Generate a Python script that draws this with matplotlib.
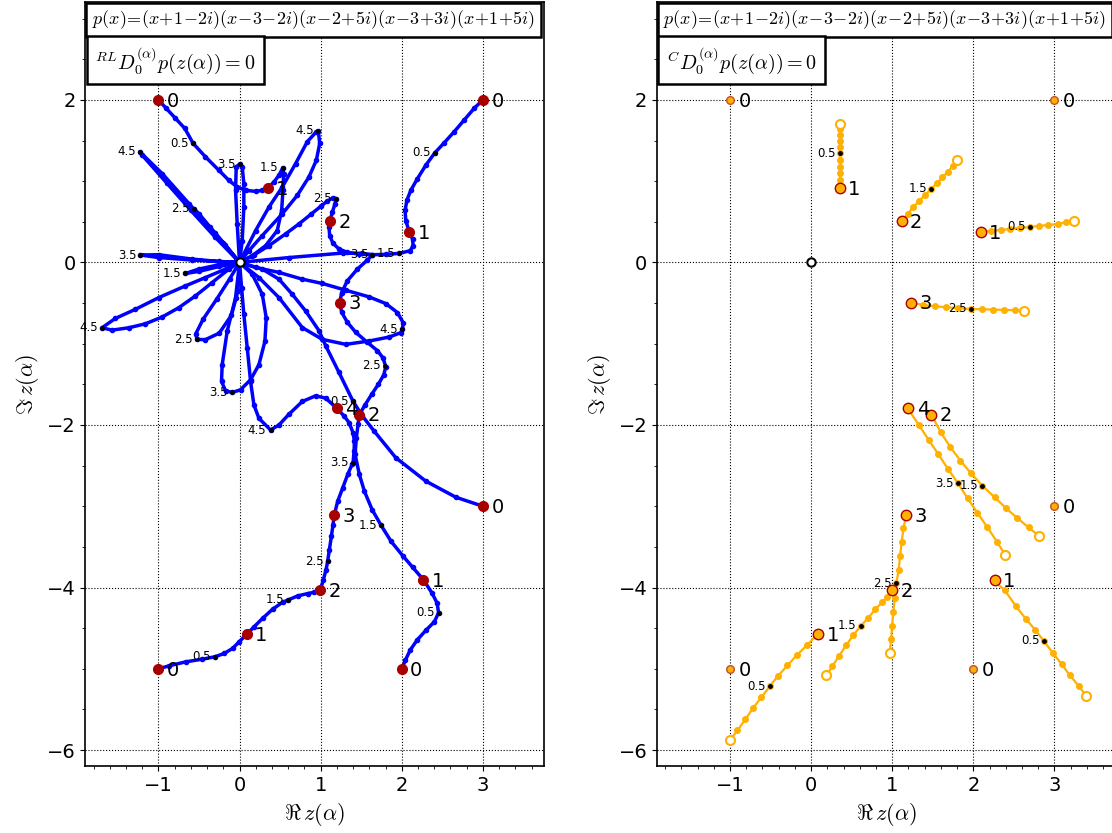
import matplotlib
matplotlib.use("Agg")
import matplotlib.pyplot as plt
from matplotlib.ticker import MultipleLocator

plt.rcParams['mathtext.fontset'] = 'cm'

# roots of p and of its integer-order derivatives
roots_0 = [(-1.0, 2.0), (3.0, 2.0), (3.0, -3.0), (2.0, -5.0), (-1.0, -5.0)]
roots_1 = [(0.35, 0.915), (2.091, 0.379), (2.267, -3.905), (0.091, -4.572)]
roots_2 = [(1.115, 0.511), (1.477, -1.872), (0.996, -4.029)]
roots_3 = [(1.235, -0.494), (1.169, -3.103)]
roots_4 = [(1.198, -1.794)]
int_roots = [roots_0, roots_1, roots_2, roots_3, roots_4]

# Riemann-Liouville root paths, alpha in [0, 5]
rl_a1_x = [-1.0, -0.905, -0.79, -0.675, -0.572, -0.42, -0.255, -0.132, -0.029, 0.074, 0.198, 0.28, 0.35]
rl_a1_y = [2.0, 1.897, 1.773, 1.649, 1.464, 1.299, 1.134, 1.01, 0.928, 0.887, 0.874, 0.887, 0.915]
rl_a2_x = [3.0, 2.893, 2.77, 2.646, 2.523, 2.407, 2.296, 2.193, 2.111, 2.062, 2.041, 2.049, 2.091]
rl_a2_y = [2.0, 1.897, 1.753, 1.608, 1.472, 1.348, 1.196, 1.031, 0.887, 0.763, 0.639, 0.515, 0.379]
rl_a3_x = [3.0, 2.667, 2.296, 1.926, 1.658, 1.514, 1.40, 1.226, 1.062, 0.979, 0.815, 0.65, 0.486, 0.28, 0.0]
rl_a3_y = [-3.0, -2.889, -2.691, -2.403, -2.074, -1.889, -1.71, -1.354, -1.025, -0.84, -0.598, -0.392, -0.206, -0.082, 0.0]
rl_a4_x = [-1.0, -0.868, -0.663, -0.457, -0.305, -0.189, -0.086, -0.004, 0.091]
rl_a4_y = [-5.0, -4.963, -4.914, -4.881, -4.852, -4.811, -4.749, -4.667, -4.572]
rl_a5_x = [2.0, 2.045, 2.103, 2.189, 2.3, 2.403, 2.453, 2.436, 2.374, 2.267]
rl_a5_y = [-5.0, -4.893, -4.77, -4.646, -4.523, -4.42, -4.309, -4.193, -4.07, -3.905]

rl_b1_x = [0.35, 0.424, 0.486, 0.535, 0.543, 0.535, 0.519, 0.465, 0.321, 0.156, 0.0]
rl_b1_y = [0.915, 0.99, 1.072, 1.167, 1.093, 0.887, 0.639, 0.392, 0.206, 0.082, 0.0]
rl_b2_x = [2.091, 2.132, 2.14, 2.103, 1.967, 1.802, 1.638, 1.473, 1.329, 1.226, 1.152, 1.111, 1.103, 1.115]
rl_b2_y = [0.379, 0.289, 0.206, 0.144, 0.111, 0.099, 0.095, 0.103, 0.124, 0.165, 0.235, 0.33, 0.433, 0.511]
rl_b3_x = [0.0, -0.255, -0.502, -0.667, -0.5, -0.25, 0.0]
rl_b3_y = [0.0, -0.029, -0.082, -0.136, -0.11, -0.05, 0.0]
rl_b4_x = [0.091, 0.181, 0.284, 0.407, 0.531, 0.601, 0.716, 0.84, 0.922, 0.996]
rl_b4_y = [-4.572, -4.481, -4.379, -4.267, -4.181, -4.152, -4.103, -4.074, -4.058, -4.029]
rl_b5_x = [2.267, 2.136, 2.012, 1.868, 1.745, 1.634, 1.539, 1.477, 1.424, 1.44, 1.461, 1.477]
rl_b5_y = [-3.905, -3.753, -3.609, -3.432, -3.235, -3.041, -2.815, -2.609, -2.362, -2.156, -1.992, -1.872]

rl_c1_x = [1.115, 1.144, 1.177, 1.193, 1.152, 1.082, 1.0, 0.877, 0.733, 0.568, 0.362, 0.177, 0.0]
rl_c1_y = [0.511, 0.619, 0.722, 0.784, 0.796, 0.755, 0.689, 0.59, 0.474, 0.351, 0.206, 0.091, 0.0]
rl_c2_x = [1.477, 1.547, 1.63, 1.712, 1.778, 1.802, 1.77, 1.7, 1.576, 1.432, 1.329, 1.259, 1.235]
rl_c2_y = [-1.872, -1.753, -1.621, -1.498, -1.383, -1.284, -1.177, -1.086, -0.984, -0.86, -0.737, -0.613, -0.494]
rl_c3_x = [0.996, 1.033, 1.066, 1.086, 1.107, 1.132, 1.152, 1.169]
rl_c3_y = [-4.029, -3.905, -3.782, -3.679, -3.535, -3.37, -3.226, -3.103]
rl_c4_x = [0.0, -0.18, -0.36, -0.5, -0.564, -0.54, -0.4, -0.2, 0.0]
rl_c4_y = [0.0, 0.22, 0.43, 0.6, 0.66, 0.6, 0.45, 0.24, 0.0]
rl_c5_x = [0.0, -0.12, -0.28, -0.45, -0.54, -0.523, -0.42, -0.25, -0.1, -0.02, 0.0]
rl_c5_y = [0.0, -0.2, -0.45, -0.7, -0.88, -0.948, -0.95, -0.87, -0.65, -0.35, 0.0]

rl_d1_x = [1.235, 1.259, 1.329, 1.453, 1.576, 1.638, 1.514, 1.27, 0.61, 0.0]
rl_d1_y = [-0.494, -0.37, -0.226, -0.082, 0.029, 0.095, 0.11, 0.115, 0.06, 0.0]
rl_d2_x = [1.169, 1.21, 1.272, 1.333, 1.387, 1.399, 1.412, 1.416, 1.399, 1.35, 1.288, 1.198]
rl_d2_y = [-3.103, -2.938, -2.774, -2.609, -2.486, -2.465, -2.321, -2.198, -2.095, -1.971, -1.889, -1.794]
rl_d3_x = [0.0, -0.029, -0.049, -0.041, 0.0, 0.033, 0.053, 0.053, 0.033, 0.0]
rl_d3_y = [0.0, 0.474, 0.887, 1.175, 1.208, 1.175, 0.969, 0.68, 0.268, 0.0]
rl_d4_x = [0.0, -0.255, -0.584, -0.996, -1.222, -0.996, -0.584, -0.255, 0.0]
rl_d4_y = [0.0, 0.012, 0.041, 0.095, 0.091, 0.06, 0.03, 0.01, 0.0]
rl_d5_x = [0.0, -0.049, -0.152, -0.214, -0.222, -0.173, -0.091, 0.012, 0.136, 0.239, 0.313, 0.329, 0.28, 0.156, 0.0]
rl_d5_y = [0.0, -0.433, -0.845, -1.258, -1.464, -1.579, -1.6, -1.567, -1.443, -1.258, -0.969, -0.68, -0.392, -0.144, 0.0]

rl_e1_x = [1.198, 1.062, 0.938, 0.774, 0.609, 0.486, 0.383, 0.239, 0.177, 0.136, 0.095, 0.053, 0.025, 0.0]
rl_e1_y = [-1.794, -1.67, -1.641, -1.711, -1.868, -2.0, -2.062, -1.918, -1.753, -1.464, -1.052, -0.639, -0.309, 0.0]
rl_e2_x = [0.0, -0.3, -0.62, -0.95, -1.23, -1.2, -0.9, -0.6, -0.3, 0.0]
rl_e2_y = [0.0, 0.36, 0.72, 1.09, 1.361, 1.32, 0.98, 0.64, 0.31, 0.0]
rl_e3_x = [0.0, -0.173, -0.42, -0.667, -0.996, -1.284, -1.531, -1.695, -1.572, -1.366, -1.16, -0.955, -0.749, -0.543, -0.337, -0.132, 0.0]
rl_e3_y = [0.0, -0.082, -0.186, -0.289, -0.433, -0.577, -0.689, -0.804, -0.833, -0.804, -0.755, -0.672, -0.557, -0.412, -0.247, -0.082, 0.0]
rl_e4_x = [0.0, 0.198, 0.362, 0.527, 0.691, 0.835, 0.947, 0.971, 0.988, 0.947, 0.856, 0.712, 0.527, 0.28, 0.115, 0.0]
rl_e4_y = [0.0, 0.392, 0.68, 0.928, 1.216, 1.485, 1.608, 1.621, 1.464, 1.258, 1.052, 0.825, 0.598, 0.33, 0.144, 0.0]
rl_e5_x = [0.0, 0.198, 0.486, 0.774, 1.021, 1.309, 1.597, 1.802, 1.947, 2.016, 2.008, 1.988, 1.844, 1.597, 1.309, 1.021, 0.774, 0.486, 0.239, 0.0]
rl_e5_y = [0.0, -0.062, -0.123, -0.206, -0.259, -0.342, -0.424, -0.506, -0.617, -0.741, -0.823, -0.864, -0.918, -0.967, -1.008, -0.947, -0.802, -0.433, -0.186, 0.0]

rl_paths = [
    (rl_a1_x, rl_a1_y), (rl_a2_x, rl_a2_y), (rl_a3_x, rl_a3_y), (rl_a4_x, rl_a4_y), (rl_a5_x, rl_a5_y),
    (rl_b1_x, rl_b1_y), (rl_b2_x, rl_b2_y), (rl_b3_x, rl_b3_y), (rl_b4_x, rl_b4_y), (rl_b5_x, rl_b5_y),
    (rl_c1_x, rl_c1_y), (rl_c2_x, rl_c2_y), (rl_c3_x, rl_c3_y), (rl_c4_x, rl_c4_y), (rl_c5_x, rl_c5_y),
    (rl_d1_x, rl_d1_y), (rl_d2_x, rl_d2_y), (rl_d3_x, rl_d3_y), (rl_d4_x, rl_d4_y), (rl_d5_x, rl_d5_y),
    (rl_e1_x, rl_e1_y), (rl_e2_x, rl_e2_y), (rl_e3_x, rl_e3_y), (rl_e4_x, rl_e4_y), (rl_e5_x, rl_e5_y),
]

# roots at half-integer orders (RL)
rl_half_alpha = ['0.5'] * 5 + ['1.5'] * 5 + ['2.5'] * 5 + ['3.5'] * 5 + ['4.5'] * 5
rl_half_x = [-0.572, 2.407, 1.40, -0.305, 2.453,
             0.535, 1.967, -0.667, 0.601, 1.745,
             -0.564, 1.193, -0.523, 1.794, 1.086,
             0.0, -1.222, 1.638, -0.091, 1.399,
             -1.23, 0.971, -1.695, 2.008, 0.383]
rl_half_y = [1.464, 1.348, -1.71, -4.852, -4.309,
             1.167, 0.111, -0.136, -4.152, -3.235,
             0.66, 0.784, -0.948, -1.272, -3.679,
             1.208, 0.091, 0.095, -1.6, -2.465,
             1.361, 1.621, -0.804, -0.823, -2.062]

# Caputo root paths, alpha stepped by 0.1 (first point is the limit alpha -> k+)
cap_a1_x = [0.35, 0.35, 0.35, 0.35, 0.35, 0.35, 0.35, 0.35, 0.35, 0.35, 0.35]
cap_a1_y = [1.704, 1.64, 1.57, 1.5, 1.42, 1.342, 1.26, 1.18, 1.10, 1.01, 0.914]
cap_a2_x = [3.243, 3.148, 3.041, 2.926, 2.811, 2.695, 2.576, 2.457, 2.337, 2.218, 2.091]
cap_a2_y = [0.514, 0.494, 0.473, 0.461, 0.449, 0.436, 0.424, 0.412, 0.399, 0.387, 0.379]
cap_a3_x = [-0.998, -0.908, -0.809, -0.715, -0.612, -0.509, -0.407, -0.292, -0.172, -0.049, 0.074]
cap_a3_y = [-5.877, -5.757, -5.621, -5.481, -5.35, -5.214, -5.086, -4.959, -4.827, -4.708, -4.58]
cap_a4_x = [3.388, 3.298, 3.191, 3.088, 2.977, 2.867, 2.76, 2.645, 2.522, 2.386, 2.263]
cap_a4_y = [-5.329, -5.21, -5.082, -4.942, -4.802, -4.654, -4.519, -4.383, -4.226, -4.033, -3.922]
cap_b1_x = [1.802, 1.745, 1.683, 1.617, 1.551, 1.481, 1.407, 1.333, 1.259, 1.189, 1.123]
cap_b1_y = [1.259, 1.185, 1.115, 1.045, 0.975, 0.905, 0.831, 0.757, 0.679, 0.597, 0.519]
cap_b2_x = [2.805, 2.682, 2.542, 2.402, 2.263, 2.111, 1.971, 1.84, 1.713, 1.598, 1.491]
cap_b2_y = [-3.363, -3.261, -3.146, -3.023, -2.891, -2.747, -2.595, -2.439, -2.267, -2.09, -1.889]
cap_b3_x = [0.189, 0.263, 0.345, 0.431, 0.522, 0.612, 0.706, 0.793, 0.879, 0.94, 0.99]
cap_b3_y = [-5.082, -4.967, -4.84, -4.712, -4.584, -4.473, -4.37, -4.267, -4.177, -4.115, -4.037]
cap_c1_x = [2.63, 2.51, 2.379, 2.247, 2.111, 1.967, 1.815, 1.667, 1.523, 1.379, 1.239]
cap_c1_y = [-0.593, -0.588, -0.584, -0.58, -0.576, -0.572, -0.564, -0.551, -0.539, -0.523, -0.494]
cap_c2_x = [0.969, 0.986, 0.998, 1.014, 1.031, 1.051, 1.08, 1.097, 1.117, 1.138, 1.17]
cap_c2_y = [-4.807, -4.638, -4.469, -4.3, -4.128, -3.947, -3.778, -3.609, -3.44, -3.272, -3.115]
cap_d1_x = [2.394, 2.292, 2.172, 2.049, 1.93, 1.811, 1.688, 1.569, 1.45, 1.331, 1.203]
cap_d1_y = [-3.602, -3.437, -3.257, -3.08, -2.903, -2.719, -2.542, -2.361, -2.185, -2.004, -1.815]
cap_paths = [
    ('0.5', cap_a1_x, cap_a1_y), ('0.5', cap_a2_x, cap_a2_y), ('0.5', cap_a3_x, cap_a3_y), ('0.5', cap_a4_x, cap_a4_y),
    ('1.5', cap_b1_x, cap_b1_y), ('1.5', cap_b2_x, cap_b2_y), ('1.5', cap_b3_x, cap_b3_y),
    ('2.5', cap_c1_x, cap_c1_y), ('2.5', cap_c2_x, cap_c2_y),
    ('3.5', cap_d1_x, cap_d1_y),
]

title_poly = (r'$p(x)\!=\!(x\!+\!1\!-\!2i)(x\!-\!3\!-\!2i)(x\!-\!2\!+\!5i)'
              r'(x\!-\!3\!+\!3i)(x\!+\!1\!+\!5i)$')

fig = plt.figure(figsize=(11.12, 8.33), dpi=100)
ax1 = fig.add_axes([0.0768, 0.080, 0.4122, 0.9172])
ax2 = fig.add_axes([0.5908, 0.080, 0.4122, 0.9172])

red = '#a80000'
gold = '#ffb000'


def setup(ax, op_label):
    ax.set_xlim(-1.9, 3.75)
    ax.set_ylim(-6.2, 3.2)
    ax.xaxis.set_major_locator(MultipleLocator(1))
    ax.xaxis.set_minor_locator(MultipleLocator(0.2))
    ax.yaxis.set_major_locator(MultipleLocator(2))
    ax.yaxis.set_minor_locator(MultipleLocator(0.5))
    ax.grid(True, which='major', color='black', linestyle=':', linewidth=0.8)
    ax.tick_params(labelsize=14)
    ax.set_xlabel(r'$\Re\, z(\alpha)$', fontsize=16)
    ax.set_ylabel(r'$\Im\, z(\alpha)$', fontsize=16)
    for s in ax.spines.values():
        s.set_linewidth(1.2)
    # formula box along the top, operator box right under it
    ax.annotate(title_poly, xy=(0, 1), xycoords='axes fraction',
                xytext=(4.6, -4.4), textcoords='offset points', fontsize=13,
                va='top', ha='left', zorder=10, annotation_clip=False,
                bbox=dict(boxstyle='square,pad=0.32', fc='white', ec='black', lw=1.8))
    ax.annotate(op_label, xy=(0, 1), xycoords='axes fraction',
                xytext=(7.0, -30.5), textcoords='offset points', fontsize=14.5,
                va='top', ha='left', zorder=10, annotation_clip=False,
                bbox=dict(boxstyle='square,pad=0.42', fc='white', ec='black', lw=1.8))


setup(ax1, r'${}^{RL}D_0^{(\alpha)}p(z(\alpha))=0$')
setup(ax2, r'${}^{C}D_0^{(\alpha)}p(z(\alpha))=0$')

# left panel: Riemann-Liouville
for px, py in rl_paths:
    ax1.plot(px, py, '-', color='blue', lw=2.5, marker='o', ms=3, zorder=2)
ax1.plot(rl_half_x, rl_half_y, 'o', color='black', ms=2.5, zorder=4)
for lab, hx, hy in zip(rl_half_alpha, rl_half_x, rl_half_y):
    ax1.annotate(lab, (hx, hy), xytext=(-3, 0), textcoords='offset points',
                 ha='right', va='center', fontsize=8.5, zorder=5)
for k, pts in enumerate(int_roots):
    xs = [p[0] for p in pts]
    ys = [p[1] for p in pts]
    ax1.plot(xs, ys, 'o', color=red, ms=7, zorder=5)
    for x, y in pts:
        ax1.annotate(str(k), (x, y), xytext=(6, -1), textcoords='offset points',
                     ha='left', va='center', fontsize=14, zorder=6)
ax1.plot([0], [0], 'o', mfc='white', mec='black', mew=1.5, ms=6, zorder=6)

# right panel: Caputo
for lab, px, py in cap_paths:
    ax2.plot(px, py, '-', color=gold, lw=1.6, marker='o', ms=4, zorder=2)
    ax2.plot(px[0], py[0], 'o', mfc='white', mec=gold, mew=1.5, ms=6.5, zorder=3)
    ax2.plot(px[5], py[5], 'o', color='black', ms=2.5, zorder=4)
    ax2.annotate(lab, (px[5], py[5]), xytext=(-3, 0), textcoords='offset points',
                 ha='right', va='center', fontsize=8.5, zorder=5)
for k, pts in enumerate(int_roots):
    xs = [p[0] for p in pts]
    ys = [p[1] for p in pts]
    if k == 0:
        ax2.plot(xs, ys, 'o', mfc=gold, mec='#c05030', mew=1, ms=5.5, zorder=5)
    else:
        ax2.plot(xs, ys, 'o', mfc=gold, mec=red, mew=1, ms=7.5, zorder=5)
    for x, y in pts:
        ax2.annotate(str(k), (x, y), xytext=(6, -1), textcoords='offset points',
                     ha='left', va='center', fontsize=14, zorder=6)
ax2.plot([0], [0], 'o', mfc='white', mec='black', mew=1.5, ms=6, zorder=6)

fig.savefig('out.png', dpi=100)
